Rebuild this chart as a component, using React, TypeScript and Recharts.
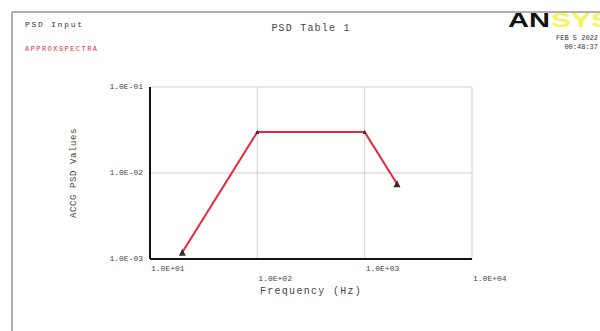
import { LineChart, Line, XAxis, YAxis, CartesianGrid, Label } from 'recharts'

// PSD table 1 (frequency in Hz, acceleration PSD)
const freqs = [20, 100, 1000, 2000]
const psdValues = [0.0012, 0.03, 0.03, 0.0075]

const xTicks = [10, 100, 1000, 10000]
const xTickLabels = ['1.0E+01', '1.0E+02', '1.0E+03', '1.0E+04']
const yTicks = [0.001, 0.01, 0.1]
const yTickLabels = ['1.0E-03', '1.0E-02', '1.0E-01']

const data = freqs.map((f, i) => ({ freq: f, psd: psdValues[i] }))

const MONO = '"Liberation Mono", "DejaVu Sans Mono", monospace'

const XTick = (props: any) => {
  const { x, y, index } = props
  const dy = index % 2 === 0 ? 10 : 20
  return (
    <text x={x + 1} y={y + dy} fontFamily={MONO} fontSize={8} fill="#444" textAnchor="start" dominantBaseline="middle">
      {xTickLabels[index]}
    </text>
  )
}

const YTick = (props: any) => {
  const { x, y, index } = props
  return (
    <text x={x - 7} y={y} fontFamily={MONO} fontSize={8} fill="#444" textAnchor="end" dominantBaseline="middle">
      {yTickLabels[index]}
    </text>
  )
}

const Marker = (props: any) => {
  const { cx, cy, index } = props
  if (cx == null || cy == null) return null
  const s = index === 0 || index === psdValues.length - 1 ? 3.5 : 2
  return (
    <path
      key={`m-${index}`}
      d={`M${cx},${cy - s} L${cx + s},${cy + s} L${cx - s},${cy + s} Z`}
      fill="#3a2a2a"
    />
  )
}

export default function App() {
  return (
    <div style={{ position: 'absolute', left: 0, top: 0, width: 600, height: 331, background: '#fff', overflow: 'hidden' }}>
      <LineChart width={600} height={331} data={data} margin={{ top: 87, right: 128, left: 100, bottom: 42 }}>
        <CartesianGrid stroke="#cfcfcf" strokeWidth={1} />
        <XAxis
          dataKey="freq"
          type="number"
          scale="log"
          domain={[10, 10000]}
          ticks={xTicks}
          height={30}
          tickSize={0}
          tickMargin={0}
          tickLine={false}
          axisLine={{ stroke: '#111', strokeWidth: 2 }}
          tick={<XTick />}
          interval={0}
          allowDataOverflow
        >
          <Label value="Frequency (Hz)" position="insideBottom" offset={-5} fontFamily={MONO} fontSize={10} letterSpacing={1.3} fill="#444" />
        </XAxis>
        <YAxis
          type="number"
          scale="log"
          domain={[0.001, 0.1]}
          ticks={yTicks}
          width={50}
          tickSize={0}
          tickMargin={0}
          tickLine={false}
          axisLine={{ stroke: '#111', strokeWidth: 2 }}
          tick={<YTick />}
          interval={0}
          allowDataOverflow
        >
          <Label value="ACCG PSD Values" angle={-90} position="insideLeft" offset={-27} fontFamily={MONO} fontSize={9} letterSpacing={0.6} fill="#444" style={{ textAnchor: 'middle' }} />
        </YAxis>
        <Line
          dataKey="psd"
          type="linear"
          stroke="#e8283a"
          strokeWidth={2}
          dot={<Marker />}
          activeDot={false}
          isAnimationActive={false}
        />
      </LineChart>
      <svg width={600} height={331} style={{ position: 'absolute', left: 0, top: 0, pointerEvents: 'none' }}>
        <line x1={12} y1={12} x2={600} y2={12} stroke="#b0b0b0" strokeWidth={2} />
        <line x1={12} y1={12} x2={12} y2={331} stroke="#b0b0b0" strokeWidth={2} />
        <text x={25} y={25} fontFamily={MONO} fontSize={8} fill="#333" dominantBaseline="middle" textLength={57}>PSD Input</text>
        <text x={25} y={49} fontFamily={MONO} fontSize={7} fill="#e8283a" dominantBaseline="middle" textLength={72}>APPROXSPECTRA</text>
        <text x={311} y={28} fontFamily={MONO} fontSize={10} fill="#444" textAnchor="middle" dominantBaseline="middle" letterSpacing={1.2}>PSD Table  1</text>
        <text x={508} y={27} fontFamily='"Liberation Sans", Arial, sans-serif' fontWeight={900} fontSize={20} fill="#111" textLength={42} lengthAdjust="spacingAndGlyphs">AN</text>
        <text x={551} y={27} fontFamily='"Liberation Sans", Arial, sans-serif' fontWeight={900} fontSize={20} fill="#f6f35a" textLength={60} lengthAdjust="spacingAndGlyphs">SYS</text>
        <text x={598} y={38} fontFamily={MONO} fontSize={7} fill="#333" textAnchor="end" dominantBaseline="middle">FEB  5 2022</text>
        <text x={598} y={47} fontFamily={MONO} fontSize={7} fill="#333" textAnchor="end" dominantBaseline="middle">00:48:37</text>
      </svg>
    </div>
  )
}
